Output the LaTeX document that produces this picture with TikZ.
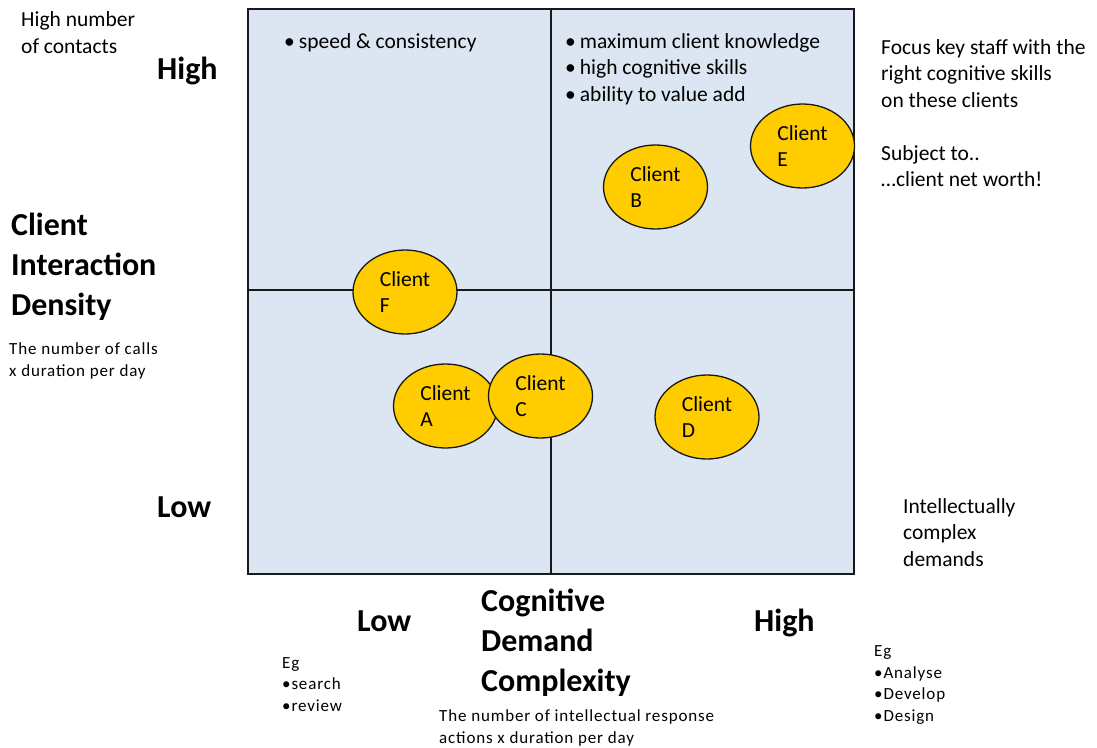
\documentclass[tikz,border=0pt]{standalone}
\usepackage{fontspec}
\setmainfont{Carlito}
\newfontfamily\spacedfont[LetterSpace=5]{Carlito}
\usetikzlibrary{shapes.geometric}
\definecolor{quad}{RGB}{220,230,242}
\definecolor{gold}{RGB}{255,204,0}
\definecolor{ink}{RGB}{25,25,25}
\begin{document}
\begin{tikzpicture}[x=1pt,y=-1pt,
  body/.style={font=\fontsize{21.5}{26.5}\selectfont, inner sep=0pt, align=left, anchor=west},
  big/.style={font=\fontsize{32}{40}\selectfont\bfseries, inner sep=0pt, align=left, anchor=west},
  small/.style={font=\spacedfont\fontsize{17}{21.5}\selectfont, inner sep=0pt, align=left, anchor=west},
  client/.style={ellipse, draw=ink, line width=1.3pt, fill=gold, minimum width=104pt, minimum height=84pt, inner sep=0pt, align=left, font=\fontsize{21.5}{26.5}\selectfont},
  frame/.style={draw=ink, line width=1.5pt},
]
\useasboundingbox (0,0) rectangle (1097,747);
% quadrant frame
\coordinate (tl) at (248,9);
\coordinate (br) at (854,574);
\coordinate (vt) at (551,9);
\coordinate (vb) at (551,574);
\coordinate (hl) at (248,290);
\coordinate (hr) at (854,290);
\fill[quad] (tl) rectangle (br);
\draw[frame] (tl) rectangle (br);
\draw[frame] (vt) -- (vb);
\draw[frame] (hl) -- (hr);

% clients
\node[client] (F) at (405,292) {Client\\F};
\node[client] (A) at (445.5,406) {Client\\A};
\node[client] (C) at (540.5,396) {Client\\C};
\node[client] (D) at (707,417) {Client\\D};
\node[client] (B) at (655.5,187) {Client\\B};
\node[client] (E) at (802.5,146) {Client\\E};

% quadrant texts
\node[body] (q1) at (284,42.5) {•\hspace{4pt}speed \& consistency};
\node[body] (q2) at (565,69) {•\hspace{4pt}maximum client knowledge\\•\hspace{4pt}high cognitive skills\\•\hspace{4pt}ability to value add};

% left side
\node[body] (hnc) at (21,32.5) {High number\\of contacts};
\node[big] (yhigh) at (157,71) {High};
\node[big] (ytitle) at (11,267) {Client\\Interaction\\Density};
\node[small] (ysub) at (9,361) {The number of calls\\x duration per day};
\node[big] (ylow) at (157,507) {Low};

% right side
\node[body] (focus) at (881,113) {Focus key staff with the\\right cognitive skills\\on these clients\\[26.5pt]Subject to..\\…client net worth!};
\node[body] (icd) at (903,532.5) {Intellectually\\complex\\demands};

% bottom
\node[big] (xlow) at (357,621) {Low};
\node[big] (xhigh) at (754,623) {High};
\node[big] (xtitle) at (481,642.5) {Cognitive\\Demand\\Complexity};
\node[small] (xsub) at (439,728) {The number of intellectual response\\actions x duration per day};
\node[small] (eglow) at (282,684.5) {Eg\\•search\\•review};
\node[small] (eghigh) at (874,685) {Eg\\•Analyse\\•Develop\\•Design};
\end{tikzpicture}
\end{document}
